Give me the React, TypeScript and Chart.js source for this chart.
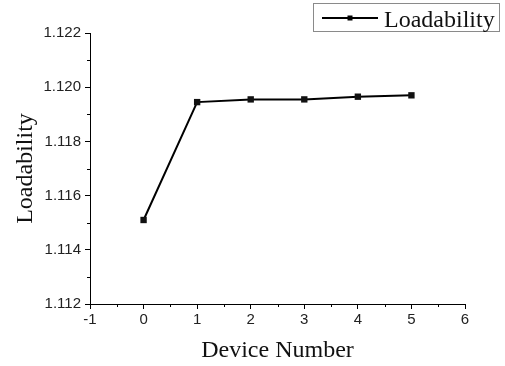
import React, { useEffect, useRef } from "react";
import { Chart, registerables } from "chart.js";

Chart.register(...registerables);

const deviceNumbers = [0, 1, 2, 3, 4, 5];
const loadability = [1.1151, 1.11945, 1.11955, 1.11955, 1.11965, 1.1197];
const xMinorTicks = [-0.5, 0.5, 1.5, 2.5, 3.5, 4.5, 5.5];
const yMinorTicks = [1.113, 1.115, 1.117, 1.119, 1.121];
const seriesLabel = "Loadability";
const xTitle = "Device Number";
const yTitle = "Loadability";

const serif = "'Liberation Serif', 'Times New Roman', serif";
const sans = "'Liberation Sans', Arial, sans-serif";

export default function App() {
  const ref = useRef<HTMLCanvasElement | null>(null);

  useEffect(() => {
    document.body.style.margin = "0";
    const canvas = ref.current;
    if (!canvas) return;

    const extras = {
      id: "extras",
      afterDraw(chart: any) {
        const ctx = chart.ctx as CanvasRenderingContext2D;
        const xs = chart.scales.x;
        const ys = chart.scales.y;
        const area = chart.chartArea;
        ctx.save();
        ctx.strokeStyle = "#000";
        ctx.lineWidth = 1;
        ctx.beginPath();
        for (const v of xMinorTicks) {
          const px = Math.round(xs.getPixelForValue(v)) + 0.5;
          ctx.moveTo(px, area.bottom);
          ctx.lineTo(px, area.bottom + 3);
        }
        for (const v of yMinorTicks) {
          const py = Math.round(ys.getPixelForValue(v)) + 0.5;
          ctx.moveTo(area.left, py);
          ctx.lineTo(area.left - 3, py);
        }
        ctx.stroke();

        // legend
        ctx.strokeStyle = "#8a8a8a";
        ctx.strokeRect(313.5, 3.5, 186, 28);
        ctx.strokeStyle = "#000";
        ctx.lineWidth = 2;
        ctx.beginPath();
        ctx.moveTo(322, 18);
        ctx.lineTo(378, 18);
        ctx.stroke();
        ctx.fillStyle = "#000";
        ctx.fillRect(347.5, 15.5, 5, 5);
        ctx.font = `24px ${serif}`;
        ctx.textBaseline = "alphabetic";
        ctx.textAlign = "left";
        ctx.fillStyle = "#111";
        ctx.fillText(chart.data.datasets[0].label, 384, 27);
        ctx.restore();
      },
    };

    const chart = new Chart(canvas, {
      type: "line",
      data: {
        datasets: [
          {
            label: seriesLabel,
            data: deviceNumbers.map((x, i) => ({ x, y: loadability[i] })),
            borderColor: "#000",
            backgroundColor: "#000",
            borderWidth: 2,
            pointStyle: "rect",
            pointRadius: 4.5,
            pointBorderWidth: 0,
            pointBackgroundColor: "#111",
            tension: 0,
          },
        ],
      },
      options: {
        animation: false,
        responsive: false,
        devicePixelRatio: 1,
        layout: { padding: { top: 33, right: 40, left: 0, bottom: 0 } },
        plugins: {
          legend: { display: false },
          tooltip: { enabled: false },
        },
        scales: {
          x: {
            type: "linear",
            min: -1,
            max: 6,
            afterFit(scale: any) {
              scale.height = 62;
            },
            ticks: {
              stepSize: 1,
              color: "#222",
              padding: 2,
              font: { family: sans, size: 15 },
            },
            grid: {
              drawOnChartArea: false,
              drawTicks: true,
              tickLength: 5,
              color: "#000",
            },
            border: { display: true, color: "#000", width: 1 },
            title: {
              display: true,
              text: xTitle,
              color: "#111",
              font: { family: serif, size: 24 },
              padding: { top: 0, bottom: 1 },
            },
          },
          y: {
            type: "linear",
            min: 1.112,
            max: 1.122,
            afterFit(scale: any) {
              scale.width = 90;
            },
            ticks: {
              stepSize: 0.002,
              color: "#222",
              padding: 4,
              font: { family: sans, size: 15 },
              callback: (v: any) => Number(v).toFixed(3),
            },
            grid: {
              drawOnChartArea: false,
              drawTicks: true,
              tickLength: 5,
              color: "#000",
            },
            border: { display: true, color: "#000", width: 1 },
            title: {
              display: true,
              text: yTitle,
              color: "#111",
              font: { family: serif, size: 24 },
              padding: { top: 11, bottom: 0 },
            },
          },
        },
      },
      plugins: [extras],
    });

    return () => chart.destroy();
  }, []);

  return <canvas ref={ref} width={505} height={366} style={{ display: "block" }} />;
}
